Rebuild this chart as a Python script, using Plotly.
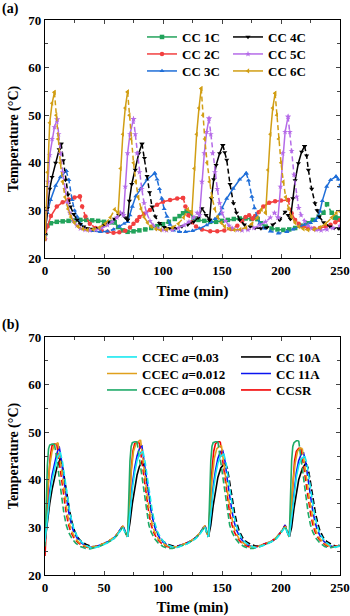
import plotly.graph_objects as go

# ---------------- Panel (a) data: CC charging at various C-rates ----------------
# each list item = one segment; "charge" = solid, "rest" = dashed (rest + discharge)
cc1c_charge_t = [[0, 2, 5, 10, 15, 20, 25, 30, 35, 40, 45, 50, 55, 59],
                 [123, 126, 130, 135, 140, 145, 150, 155, 160, 165, 170, 175, 180],
                 [246, 248, 250]]
cc1c_charge_T = [[25, 26.8, 27.3, 27.6, 27.7, 27.8, 27.9, 28, 28, 27.9, 27.8, 27.6, 27.5, 27.5],
                 [29.5, 28.3, 28, 27.8, 27.6, 27.6, 27.8, 28, 28.2, 28.3, 28.3, 28.2, 28.2],
                 [28.5, 28.3, 28.2]]
cc1c_rest_t = [[59, 62, 66, 70, 75, 80, 85, 90, 95, 100, 105, 110, 114, 117, 120, 123],
               [180, 183, 187, 192, 197, 202, 207, 212, 217, 222, 227, 232, 236, 239, 243, 246]]
cc1c_rest_T = [[27.5, 26.5, 25.8, 25.5, 25.6, 25.8, 26, 26.3, 26.7, 27.1, 27.6, 28.2, 28.8, 29.4, 29.8, 29.5],
               [28.2, 27.3, 26.6, 26.2, 26, 25.9, 26, 26.3, 26.8, 27.3, 28, 28.7, 29.5, 31.3, 29.5, 28.5]]

cc2c_charge_t = [[0, 2, 5, 10, 15, 20, 25, 29.5],
                 [78, 80, 84, 89, 95, 100, 106, 112, 117],
                 [176, 178, 181, 185, 190, 195, 200, 206]]
cc2c_charge_T = [[24, 26.6, 28.8, 30.8, 31.7, 32.3, 32.7, 32.9],
                 [27.9, 28.6, 29.3, 30.1, 31.2, 31.8, 32.2, 32.5, 32.6],
                 [28.3, 28.8, 29.6, 30.8, 31.6, 31.9, 32.1, 32.2]]
cc2c_rest_t = [[29.5, 31.5, 34.3, 38, 43, 48, 53, 58, 63, 68, 72, 75, 78],
               [117, 119, 121.5, 124.5, 128, 133, 140, 146, 152, 158, 163, 167, 170, 173, 176],
               [206, 209, 212, 215, 219, 223, 228, 233, 238, 242, 246, 250]]
cc2c_rest_T = [[32.9, 30.8, 28.7, 27.2, 26.3, 25.8, 25.5, 25.3, 25.4, 25.7, 26.4, 27.2, 27.9],
               [32.6, 30.8, 29, 27.5, 26.6, 26, 25.6, 25.6, 25.8, 26.1, 26.8, 27.7, 28.6, 29, 28.3],
               [32.2, 29.4, 28, 27.2, 26.6, 26.3, 26.2, 26.3, 26.6, 27, 27.5, 28]]

cc3c_charge_t = [[0, 2, 4.7, 9, 13, 18],
                 [70, 72, 74, 77, 80.8, 86.5, 93],
                 [146, 148, 150, 154, 159.5, 165, 170.5],
                 [229, 231, 233, 235, 238.7, 242, 246.6]]
cc3c_charge_T = [[25, 29.5, 32.2, 35.2, 37, 38.3],
                 [27.6, 29, 30.8, 33, 34.5, 36.5, 37.8],
                 [28.5, 29.2, 30.5, 32.5, 34.6, 36.5, 37.8],
                 [27.8, 28.5, 29.8, 32, 35, 36.4, 37.1]]
cc3c_rest_t = [[18, 20.2, 23, 25, 27.2, 30, 34, 40, 47, 53, 58, 63, 67, 70],
               [93, 95, 97, 99, 101, 103.4, 106, 109, 114, 119, 125, 131, 137, 141, 144, 146],
               [170.5, 172.5, 175.3, 177.5, 179.5, 182, 186, 191, 197.8, 205, 210, 215, 220, 225, 229],
               [246.6, 248.5, 250]]
cc3c_rest_T = [[38.3, 36.4, 32.2, 30, 28.7, 27.2, 26.2, 25.7, 25.5, 25.6, 26, 26.6, 27.2, 27.6],
               [37.8, 36.5, 34.5, 32.5, 30.3, 28.7, 27, 25.8, 25.5, 25.5, 25.7, 26.2, 26.9, 27.6, 28.2, 28.5],
               [37.8, 36.3, 32.9, 30.5, 28.7, 27.3, 26.2, 25.6, 25.2, 25.5, 26, 26.6, 27, 27.4, 27.8],
               [37.1, 36.5, 35]]

cc4c_charge_t = [[0, 2, 4, 6, 9, 12, 13.7],
                 [70, 71.5, 73.5, 76.5, 79.5, 82.2],
                 [139.5, 141, 143, 145, 148, 150.7],
                 [208, 210, 212, 214.7, 217.5, 220]]
cc4c_charge_T = [[25, 30.5, 34.5, 37, 40, 42.8, 44],
                 [28, 32, 35.5, 38.5, 42, 44],
                 [28, 32.5, 36.5, 39.5, 42, 43.7],
                 [28.2, 32.5, 36.3, 39.9, 42.3, 43.5]]
cc4c_rest_t = [[13.7, 15.5, 17.3, 19.5, 21.6, 24.3, 27.2, 30, 32.8, 36, 40, 45, 50, 55, 59, 62.5, 65.5, 68, 70],
               [82.2, 84.3, 86.5, 88.6, 90.7, 93.5, 97, 101, 106, 111, 116, 121, 126, 130, 133, 136.5, 139.5],
               [150.7, 152.3, 154, 156.8, 159.7, 162.3, 165, 169, 173.9, 178, 183, 188, 193, 199, 203.5, 206, 208],
               [220, 221.7, 223.2, 226, 228.8, 230.6, 232.5, 236, 241.5, 245, 248.6, 250]]
cc4c_rest_T = [[44, 40.5, 36.4, 33.3, 30.8, 29.2, 28, 27.1, 26.6, 26.2, 26.1, 26.3, 26.9, 27.5, 28.2, 29, 29.3, 28.5, 28],
               [44, 41, 37.2, 33.8, 30.8, 28.7, 27.3, 26.5, 26.2, 26.3, 26.6, 27, 27.6, 28.5, 30.4, 29, 28],
               [43.7, 42.2, 40.6, 35.5, 31.5, 29.5, 28, 27, 26.6, 26.3, 26.2, 26.4, 27, 28, 29.7, 29, 28.2],
               [43.5, 41.5, 38.5, 34.5, 31.5, 30, 28.7, 27.5, 26.6, 26.3, 26.2, 26.2]]

cc5c_charge_t = [[0, 1, 2.5, 4, 6, 8, 10.3],
                 [66.5, 68, 70, 72, 75],
                 [131, 133, 135, 137, 139],
                 [197.5, 199.5, 201.5, 203.5, 206]]
cc5c_charge_T = [[24, 30, 36, 41.6, 45, 47.5, 49.1],
                 [29, 35, 42, 46, 49.2],
                 [29, 36, 42, 46.5, 49.3],
                 [28.5, 35, 42, 46.5, 49.7]]
cc5c_rest_t = [[10.3, 11.5, 13, 15, 17, 19, 21, 24, 27, 30, 34, 38, 43, 48, 53, 57, 61, 64, 66.5],
               [75, 76.5, 78, 80, 82, 84, 86, 89, 92, 95, 99, 103, 108, 113, 118, 122, 126, 129, 131],
               [139, 140.5, 142, 144, 146, 148, 150, 153, 156, 159, 163, 167, 172, 177, 182, 187, 191, 194.5, 197.5],
               [206, 207.5, 209, 211, 213.3, 215, 217, 220, 223, 226, 229.7, 234, 239, 244, 250]]
cc5c_rest_T = [[49.1, 46, 42, 38, 34.5, 31.5, 29.5, 27.8, 26.8, 26.2, 25.9, 25.8, 25.9, 26.3, 26.9, 27.6, 28.5, 29.5, 29],
               [49.2, 46, 42, 38, 34.5, 31.5, 29.5, 27.8, 26.8, 26.2, 25.9, 25.8, 25.9, 26.3, 26.9, 27.6, 28.5, 29.5, 29],
               [49.3, 46, 42, 38, 34.5, 31.5, 29.5, 27.8, 26.8, 26.2, 25.9, 25.8, 25.9, 26.3, 26.9, 27.6, 28.5, 29.5, 28.5],
               [49.7, 46.5, 42.5, 37.5, 32.9, 30.5, 29, 27.8, 26.8, 26.2, 25.9, 25.8, 26, 26.3, 26.8]]

cc6c_charge_t = [[0, 2, 4, 6, 8],
                 [62, 64, 66, 68, 70],
                 [124.5, 126.5, 128.5, 130.5, 132.4],
                 [187, 189, 191, 193, 195]]
cc6c_charge_T = [[24, 38, 48.4, 52.5, 54.8],
                 [29.5, 38.8, 46, 51.5, 54.9],
                 [29.5, 38.8, 46, 51.5, 55.6],
                 [29.5, 38.5, 46, 51.5, 54.6]]
cc6c_rest_t = [[8, 9.5, 11, 13, 15, 17, 19.5, 22, 25, 28, 32, 36, 41, 46, 51, 55.4, 59, 62],
               [70, 71.5, 73, 75, 77, 79, 81.5, 84, 87, 90, 94, 98, 103, 108, 113, 117.5, 121, 124.5],
               [132.4, 133.9, 135.4, 137.4, 139.4, 141.4, 143.9, 146.4, 149.4, 152.4, 156.4, 160.4, 165.4, 170.4, 175.4, 180, 183.5, 187],
               [195, 196.5, 198, 200, 202, 204, 206.5, 209, 212, 215, 219, 223, 228, 233, 238, 243, 247, 250]]
cc6c_rest_T = [[54.8, 50, 45, 40, 36, 32.8, 30.3, 28.6, 27.4, 26.6, 26.1, 25.9, 26, 26.4, 27.2, 28.5, 30.2, 29.5],
               [54.9, 50, 45, 40, 36, 32.8, 30.3, 28.6, 27.4, 26.6, 26.1, 25.9, 26, 26.4, 27.2, 28.5, 30.2, 29.5],
               [55.6, 50, 45, 40, 36, 32.8, 30.3, 28.6, 27.4, 26.6, 26.1, 25.9, 26, 26.4, 27.2, 28.5, 30.2, 29.5],
               [54.6, 50, 45, 40, 36, 32.8, 30.3, 28.6, 27.4, 26.6, 26.1, 25.9, 26, 26.4, 27.2, 28.5, 29.5, 29.8]]

# ---------------- Panel (b) data: charging strategies ----------------
ccec008_charge_t = [[0, 1, 2, 3, 4, 6, 8], [70, 71, 72, 73, 74, 76, 78],
                    [138.5, 139.5, 140.5, 141.5, 142.5, 144.5, 146.5], [207, 208, 209, 210, 211, 213, 215]]
ccec008_charge_T = [[26, 36, 43, 46.5, 47.3, 47.5, 47.5], [28, 37, 44, 47, 47.8, 48, 48],
                    [28, 37, 44, 47, 47.8, 48, 48], [28, 37, 44, 47, 47.8, 48.2, 48.2]]
ccec008_rest_t = [[8, 10, 12, 14, 16, 18, 20, 23, 26, 30, 34, 38, 42, 46, 50, 54, 58, 61, 64, 66, 68, 70],
                  [78, 80, 82, 84, 86, 88, 90, 93, 96, 100, 104, 108, 112, 116, 120, 124, 128, 131, 134, 135.5, 137, 138.5],
                  [146.5, 148.5, 150.5, 152.5, 154.5, 156.5, 158.5, 161.5, 164.5, 168.5, 172.5, 176.5, 180, 184, 188, 192, 196, 199, 202, 203.5, 205.5, 207],
                  [215, 217, 219, 221, 223, 225, 227, 230, 233, 237, 241, 245, 250]]
ccec008_rest_T = [[47.5, 44.5, 40.5, 36.5, 33, 30.5, 29, 27.6, 26.7, 26, 25.6, 25.5, 25.7, 26, 26.4, 26.9, 27.5, 28.3, 29.3, 30.1, 29, 28],
                  [48, 44.5, 40.5, 36.5, 33, 30.5, 29, 27.6, 26.7, 26, 25.6, 25.6, 25.8, 26.1, 26.5, 27.1, 27.8, 28.6, 29.7, 30.2, 29, 28],
                  [48, 44.5, 40.5, 36.5, 33, 30.5, 29, 27.6, 26.7, 26, 25.6, 25.6, 25.8, 26.1, 26.5, 27, 27.7, 28.6, 29.7, 30.2, 29, 28],
                  [48.2, 44.5, 40.5, 36.5, 33, 30.5, 29, 27.6, 26.7, 26, 25.7, 25.9, 26.2]]

ccsr_charge_t = [[0, 1.5, 3, 4.5, 6, 8, 10], [70, 71.5, 73, 74.5, 76, 78, 80],
                 [138.5, 140, 141.5, 143, 144.5, 146.5, 148.5], [207, 208.5, 210, 211.5, 213, 215, 217]]
ccsr_charge_T = [[24, 33, 40, 45, 47.2, 47.5, 47.5], [28, 35, 42, 46, 47.6, 47.8, 47.8],
                 [28, 35, 42, 46, 47.6, 48, 48], [28, 34, 40, 44, 46, 46.6, 46.6]]
ccsr_rest_t = [[10, 12, 14, 16, 18, 20, 22, 25, 28, 32, 36, 42, 46, 50, 54, 58, 61, 64, 66, 68, 70],
               [80, 82, 84, 86, 88, 90, 92, 95, 98, 102, 106, 112, 116, 120, 124, 128, 131, 134, 135.5, 137, 138.5],
               [148.5, 150.5, 152.5, 154.5, 156.5, 158.5, 160.5, 163.5, 166.5, 170.5, 174.5, 180, 184, 188, 192, 196, 199, 202, 203.5, 205.5, 207],
               [217, 219, 221, 223, 225, 227, 229, 232, 235, 239, 243, 247, 250]]
ccsr_rest_T = [[47.5, 44, 40, 36.3, 33, 30.5, 29, 27.6, 26.8, 26.1, 25.8, 25.9, 26.2, 26.6, 27.1, 27.7, 28.5, 29.5, 30.3, 29, 28],
               [47.8, 44, 40, 36.3, 33, 30.5, 29, 27.6, 26.8, 26.1, 25.8, 26, 26.3, 26.7, 27.2, 27.9, 28.7, 29.8, 30.3, 29, 28],
               [48, 44, 40, 36.3, 33, 30.5, 29, 27.6, 26.8, 26.1, 25.8, 26, 26.3, 26.7, 27.1, 27.8, 28.7, 29.8, 30.3, 29, 28],
               [46.6, 43.5, 40, 36.3, 33, 30.5, 29, 27.6, 26.8, 26.1, 25.8, 26.1, 26.3]]

ccec012_charge_t = [[0, 2, 4, 6, 8, 10, 11], [70, 71.5, 73, 75, 77, 79, 81],
                    [138.5, 140, 141.5, 143.5, 145.5, 147.5, 149.5], [207, 208.5, 210, 212, 214, 216, 218]]
ccec012_charge_T = [[27, 37, 43, 46, 47.3, 47.7, 47.8], [28, 35, 41.5, 46, 47.5, 48, 48.4],
                    [28, 34, 40, 44.5, 46.5, 47, 47.2], [28, 33.5, 39, 43.5, 46, 46.6, 46.6]]
ccec012_rest_t = [[11, 13, 15, 17, 19, 21, 23, 26, 29, 33, 37, 42, 46, 50, 54, 58, 61, 64, 66, 68, 70],
                  [81, 83, 85, 87, 89, 91, 93, 96, 99, 103, 107, 112, 116, 120, 124, 128, 131, 134, 135.5, 137, 138.5],
                  [149.5, 151.5, 153.5, 155.5, 157.5, 159.5, 161.5, 164.5, 167.5, 171.5, 175.5, 180, 184, 188, 192, 196, 199, 202, 203.5, 205.5, 207],
                  [218, 220, 222, 224, 226, 228, 230, 233, 236, 240, 244, 247, 250]]
ccec012_rest_T = [[47.8, 44, 39.8, 36, 32.8, 30.5, 29, 27.6, 26.8, 26.2, 25.8, 25.9, 26.2, 26.6, 27.1, 27.8, 28.5, 29.6, 30.3, 29, 28],
                  [48.4, 44, 39.8, 36, 32.8, 30.5, 29, 27.6, 26.8, 26.2, 25.9, 26, 26.3, 26.7, 27.2, 28, 28.7, 29.8, 30.4, 29, 28],
                  [47.2, 44, 39.8, 36, 32.8, 30.5, 29, 27.6, 26.8, 26.2, 25.9, 26, 26.3, 26.7, 27.1, 27.9, 28.7, 29.8, 30.4, 29, 28],
                  [46.6, 43.5, 39.8, 36, 32.8, 30.5, 29, 27.6, 26.8, 26.2, 25.9, 26, 26.3]]

cc11a_charge_t = [[0, 2, 4, 6, 8, 10, 12], [70, 72, 74, 76, 78, 80, 82],
                  [138.5, 140.5, 142.5, 144.5, 146.5, 148.5, 150.5], [207, 209, 211, 213, 215, 217, 219]]
cc11a_charge_T = [[27, 33, 37.5, 41, 43.5, 45.5, 47], [28, 34, 39, 42.5, 45, 46.5, 47.3],
                  [28, 33.5, 38.5, 42, 44.5, 45.8, 46.3], [28, 33, 38, 41.5, 44, 45.3, 45.8]]
cc11a_rest_t = [[12, 14, 16, 18, 20, 22, 24, 27, 30, 34, 38, 42, 46, 50, 54, 58, 61, 64, 66, 68, 70],
                [82, 84, 86, 88, 90, 92, 94, 97, 100, 104, 108, 112, 116, 120, 124, 128, 131, 134, 135.5, 137, 138.5],
                [150.5, 152.5, 154.5, 156.5, 158.5, 160.5, 162.5, 165.5, 168.5, 172.5, 176.5, 180, 184, 188, 192, 196, 199, 202, 203.5, 205.5, 207],
                [219, 221, 223, 225, 227, 229, 231, 234, 237, 241, 245, 250]]
cc11a_rest_T = [[47, 44, 40, 36.5, 33.3, 31, 29.3, 27.8, 26.9, 26.2, 25.8, 25.9, 26.2, 26.6, 27.1, 27.7, 28.5, 29.6, 30.4, 29.2, 28],
                [47.3, 44, 40, 36.5, 33.3, 31, 29.3, 27.8, 26.9, 26.2, 25.9, 26, 26.3, 26.7, 27.2, 27.9, 28.7, 29.9, 30.5, 29.2, 28],
                [46.3, 44, 40, 36.5, 33.3, 31, 29.3, 27.8, 26.9, 26.2, 25.9, 26, 26.3, 26.7, 27.1, 27.8, 28.7, 29.9, 30.5, 29.2, 28],
                [45.8, 43.5, 40, 36.5, 33.3, 31, 29.3, 27.8, 26.9, 26.2, 25.9, 26.2]]

ccec003_charge_t = [[0, 2, 4, 6, 8, 10, 13], [70, 72, 74, 76, 78, 80, 83],
                    [138.5, 140.5, 142.5, 144.5, 146.5, 148.5, 151.5], [207, 209, 211, 213, 215, 217, 220]]
ccec003_charge_T = [[27, 32.5, 36.5, 40, 42.5, 44.3, 45.8], [28, 33.5, 38, 41.5, 44, 45.3, 46],
                    [28, 33, 37.5, 41, 43.5, 44.8, 45.5], [28, 32.5, 37, 40.5, 43, 44.3, 45]]
ccec003_rest_t = [[13, 15, 17, 19, 21, 23, 25, 28, 31, 35, 39, 42, 46, 50, 54, 58, 61, 64, 66, 68, 70],
                  [83, 85, 87, 89, 91, 93, 95, 98, 101, 105, 109, 112, 116, 120, 124, 128, 131, 134, 135.5, 137, 138.5],
                  [151.5, 153.5, 155.5, 157.5, 159.5, 161.5, 163.5, 166.5, 169.5, 173.5, 177.5, 180, 184, 188, 192, 196, 199, 202, 203.5, 205.5, 207],
                  [220, 222, 224, 226, 228, 230, 232, 235, 238, 242, 246, 250]]
ccec003_rest_T = [[45.8, 43.5, 40, 36.5, 33.3, 31, 29.3, 27.8, 26.9, 26.2, 25.7, 25.7, 26, 26.4, 26.9, 27.6, 28.4, 29.4, 30, 28.8, 28],
                  [46, 43.5, 40, 36.5, 33.3, 31, 29.3, 27.8, 26.9, 26.2, 25.8, 25.8, 26.1, 26.5, 27, 27.7, 28.5, 29.6, 30.1, 28.8, 28],
                  [45.5, 43.5, 40, 36.5, 33.3, 31, 29.3, 27.8, 26.9, 26.2, 25.8, 25.8, 26.1, 26.5, 27, 27.6, 28.5, 29.6, 30.1, 28.8, 28],
                  [45, 43.5, 40, 36.5, 33.3, 31, 29.3, 27.8, 26.9, 26.2, 25.8, 26.1]]

cc10a_charge_t = [[0, 2, 4, 6, 8, 10, 13], [70, 72, 74, 76, 78, 80, 82.5],
                  [138.5, 140.5, 142.5, 144.5, 146.5, 149, 152.5], [207, 209, 211, 213, 215, 218, 221]]
cc10a_charge_T = [[27, 31.5, 35, 38, 40.5, 42.5, 44.5], [28, 31, 35, 38.5, 41, 42.8, 44],
                  [28, 30.5, 34.5, 38, 40.5, 42.5, 43.5], [28, 30, 34, 37.5, 40, 42.3, 43.5]]
cc10a_rest_t = [[13, 15, 17, 19, 21, 23, 25, 28, 31, 35, 39, 42, 46, 50, 54, 58, 61, 64, 66, 68, 70],
                [82.5, 84.5, 86.5, 88.5, 90.5, 92.5, 94.5, 97.5, 100.5, 104.5, 108.5, 112, 116, 120, 124, 128, 131, 134, 135.5, 137, 138.5],
                [152.5, 154.5, 156.5, 158.5, 160.5, 162.5, 164.5, 167.5, 170.5, 174.5, 178.5, 182, 186, 190, 193, 196, 199, 202, 203.5, 205.5, 207],
                [221, 223, 225, 227, 229, 231, 233, 236, 239, 243, 247, 250]]
cc10a_rest_T = [[44.5, 42.5, 39.5, 36.3, 33.3, 31, 29.3, 27.8, 27, 26.4, 26, 26, 26.2, 26.6, 27.1, 27.7, 28.5, 29.5, 30.2, 29, 28],
                [44, 42.5, 39.5, 36.3, 33.3, 31, 29.3, 27.8, 27, 26.4, 26.1, 26.1, 26.3, 26.7, 27.2, 27.9, 28.7, 29.8, 30.3, 29, 28],
                [43.5, 42.5, 39.5, 36.3, 33.3, 31, 29.3, 27.8, 27, 26.4, 26.1, 26.1, 26.4, 26.8, 27.2, 27.8, 28.7, 29.8, 30.3, 29, 28],
                [43.5, 42.5, 39.5, 36.3, 33.3, 31, 29.3, 27.8, 27, 26.4, 26, 26.3]]

# labels
legend_a = ["CC 1C", "CC 2C", "CC 3C", "CC 4C", "CC 5C", "CC 6C"]
legend_b = ["CCEC <i>a</i>=0.03", "CCEC <i>a</i>=0.012", "CCEC <i>a</i>=0.008", "CC 10A", "CC 11A", "CCSR"]
x_title = "Time (min)"
y_title = "Temperature (°C)"
x_ticks = [0, 50, 100, 150, 200, 250]
y_ticks = [20, 30, 40, 50, 60, 70]


def flatten(segments):
    out = []
    for i, seg in enumerate(segments):
        if i:
            out.append(None)
        out.extend(seg)
    return out


FONT = "Liberation Serif, Times New Roman, serif"
H, T_M, B_M = 616, 20, 41
plot_h = H - T_M - B_M


def py(p):
    return (H - B_M - p) / plot_h


def px(p):
    return (p - 45) / 295


fig = go.Figure()
legend_layout = {}
legfont = dict(family=FONT, size=13, color="black")


def make_legend(idx, xpix, ypix):
    key = "legend" if idx == 1 else "legend%d" % idx
    legend_layout[key] = dict(font=legfont, bgcolor="rgba(0,0,0,0)", borderwidth=0,
                              xanchor="left", yanchor="middle", itemwidth=30,
                              x=px(xpix), y=py(ypix), orientation="v")
    return key


# ---- panel (a) ----
series_a = [
    (cc1c_charge_t, cc1c_charge_T, cc1c_rest_t, cc1c_rest_T, "#22A35B", "square", 142, 37),
    (cc2c_charge_t, cc2c_charge_T, cc2c_rest_t, cc2c_rest_T, "#F23F3F", "circle", 142, 54),
    (cc3c_charge_t, cc3c_charge_T, cc3c_rest_t, cc3c_rest_T, "#1F6ED8", "triangle-up", 142, 71),
    (cc4c_charge_t, cc4c_charge_T, cc4c_rest_t, cc4c_rest_T, "#000000", "triangle-down", 228, 37),
    (cc5c_charge_t, cc5c_charge_T, cc5c_rest_t, cc5c_rest_T, "#B56BE8", "star", 228, 54),
    (cc6c_charge_t, cc6c_charge_T, cc6c_rest_t, cc6c_rest_T, "#D19E14", "triangle-left", 228, 71),
]
li = 0
for name, (ct, cT, rt, rT, col, sym, lx, ly) in zip(legend_a, series_a):
    li += 1
    leg = make_legend(li, lx, ly)
    fig.add_trace(go.Scatter(x=flatten(rt), y=flatten(rT), mode="lines+markers", xaxis="x", yaxis="y",
                             line=dict(color=col, width=1.5, dash="5px,3px"),
                             marker=dict(symbol=sym, size=4.5, color=col),
                             showlegend=False, hoverinfo="skip"))
    fig.add_trace(go.Scatter(x=flatten(ct), y=flatten(cT), mode="lines+markers", xaxis="x", yaxis="y",
                             name="<b>" + name + "</b>", legend=leg,
                             line=dict(color=col, width=1.5),
                             marker=dict(symbol=sym, size=4.5, color=col)))

# ---- panel (b) ----
series_b = [
    (cc10a_charge_t, cc10a_charge_T, cc10a_rest_t, cc10a_rest_T, "#000000", legend_b[3], 236, 357),
    (cc11a_charge_t, cc11a_charge_T, cc11a_rest_t, cc11a_rest_T, "#0A14F0", legend_b[4], 236, 373.5),
    (ccsr_charge_t, ccsr_charge_T, ccsr_rest_t, ccsr_rest_T, "#F20000", legend_b[5], 236, 390),
    (ccec012_charge_t, ccec012_charge_T, ccec012_rest_t, ccec012_rest_T, "#E0A01C", legend_b[1], 102, 373.5),
    (ccec008_charge_t, ccec008_charge_T, ccec008_rest_t, ccec008_rest_T, "#1EAA68", legend_b[2], 102, 390),
    (ccec003_charge_t, ccec003_charge_T, ccec003_rest_t, ccec003_rest_T, "#18E8F0", legend_b[0], 102, 357),
]
for ct, cT, rt, rT, col, name, lx, ly in series_b:
    li += 1
    leg = make_legend(li, lx, ly)
    fig.add_trace(go.Scatter(x=flatten(rt), y=flatten(rT), mode="lines", xaxis="x2", yaxis="y2",
                             line=dict(color=col, width=1.6, dash="6px,3px"),
                             showlegend=False, hoverinfo="skip"))
    fig.add_trace(go.Scatter(x=flatten(ct), y=flatten(cT), mode="lines", xaxis="x2", yaxis="y2",
                             name="<b>" + name + "</b>", legend=leg,
                             line=dict(color=col, width=1.6)))

tickfont = dict(family=FONT, size=13, color="black")
titlefont = dict(family=FONT, size=15, color="black")
ax_common = dict(range=[0, 250], tickvals=x_ticks, ticktext=["<b>%d</b>" % v for v in x_ticks],
                 ticks="inside", ticklen=4, tickwidth=1.2, automargin=False,
                 showline=True, linecolor="black", linewidth=1.3, mirror="ticks", showgrid=False,
                 zeroline=False, tickfont=tickfont, title=dict(text="<b>" + x_title + "</b>", font=titlefont, standoff=8),
                 minor=dict(dtick=25, ticks="inside", ticklen=2.5, tickwidth=1, showgrid=False))
ay_common = dict(range=[20, 70], tickvals=y_ticks, ticktext=["<b>%d</b>" % v for v in y_ticks],
                 ticks="inside", ticklen=4, tickwidth=1.2, automargin=False,
                 showline=True, linecolor="black", linewidth=1.3, mirror="ticks", showgrid=False,
                 zeroline=False, tickfont=tickfont,
                 title=dict(text="<b>" + y_title + "</b>", font=dict(family=FONT, size=14, color="black"), standoff=6),
                 minor=dict(dtick=5, ticks="inside", ticklen=2.5, tickwidth=1, showgrid=False))

fig.update_layout(
    template="none",
    width=350, height=H, margin=dict(l=45, r=10, t=T_M, b=B_M, autoexpand=False),
    paper_bgcolor="white", plot_bgcolor="white",
    font=dict(family=FONT, color="black"),
    xaxis=dict(ax_common, anchor="y", domain=[0, 1]),
    yaxis=dict(ay_common, anchor="x", domain=[py(258), 1]),
    xaxis2=dict(ax_common, anchor="y2", domain=[0, 1]),
    yaxis2=dict(ay_common, anchor="x2", domain=[0, py(337)]),
    annotations=[
        dict(text="<b>(a)</b>", x=px(10), y=py(9), xref="paper", yref="paper", showarrow=False,
             xanchor="center", yanchor="middle", font=dict(family=FONT, size=14, color="black")),
        dict(text="<b>(b)</b>", x=px(10), y=py(325), xref="paper", yref="paper", showarrow=False,
             xanchor="center", yanchor="middle", font=dict(family=FONT, size=14, color="black")),
    ],
    **legend_layout,
)

fig.write_html("out.html", config={"displayModeBar": False},
               post_script="document.body.style.margin='0';document.body.style.overflow='hidden';")
